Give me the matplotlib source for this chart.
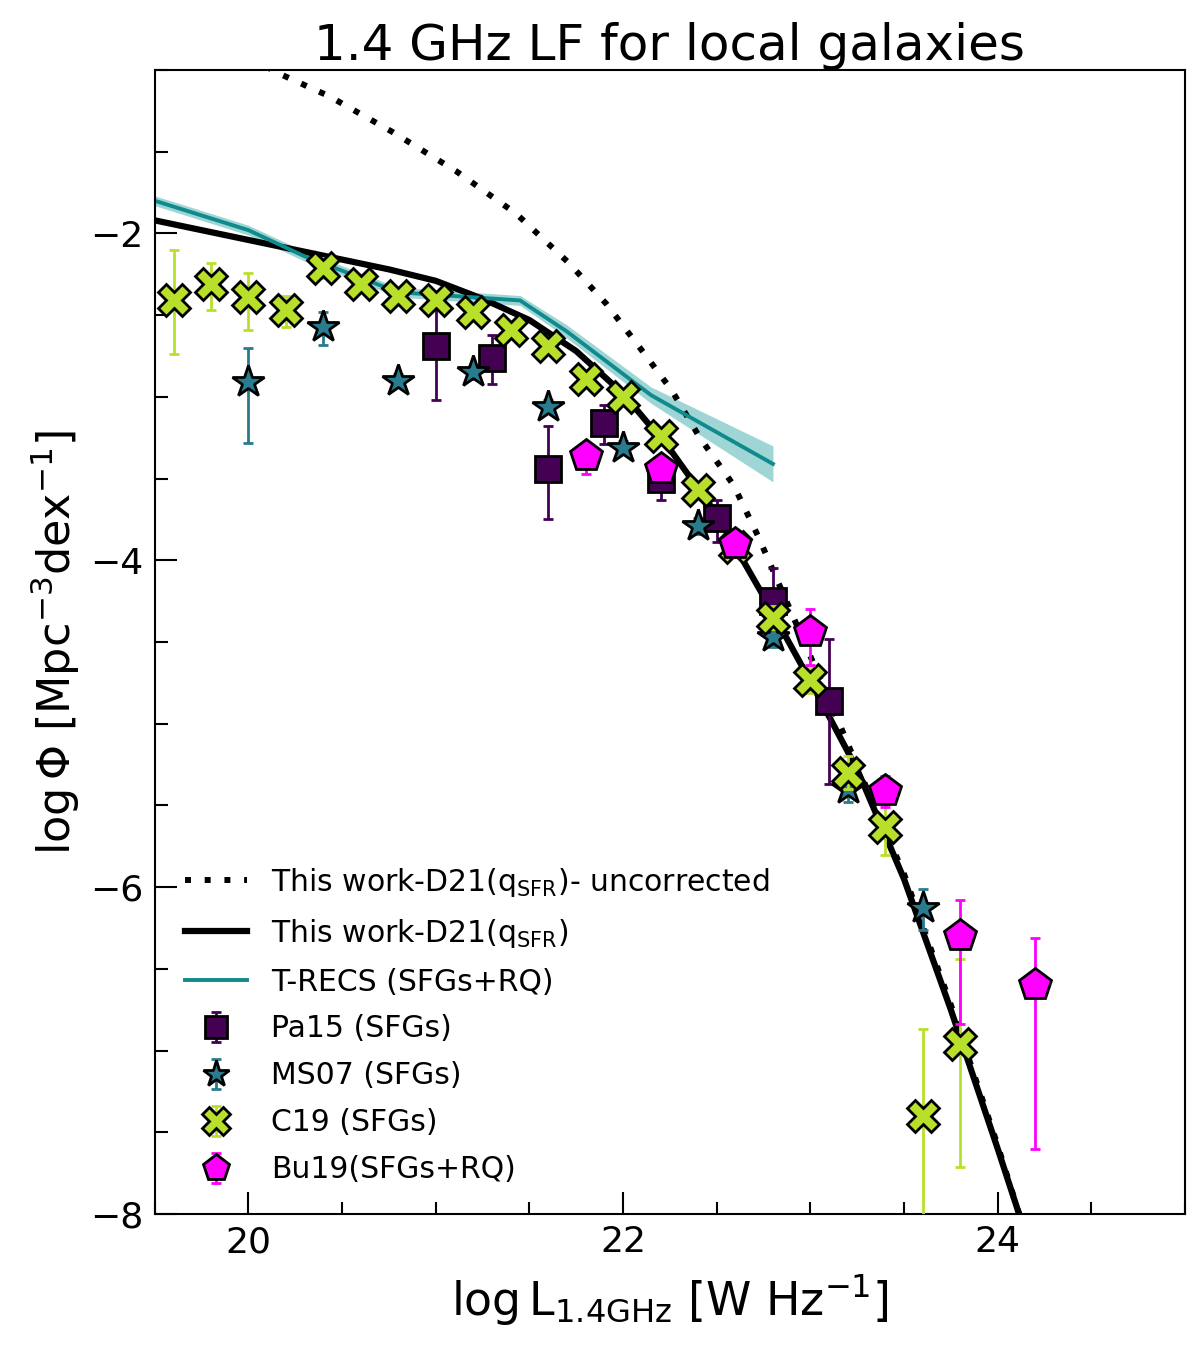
import matplotlib
matplotlib.use("Agg")
import matplotlib.pyplot as plt
import numpy as np
from matplotlib.ticker import MultipleLocator

# ---- model curves ----
d21_x = [19.5, 19.75, 20.0, 20.25, 20.5, 20.75, 21.0, 21.25, 21.5, 21.75, 22.0,
         22.25, 22.5, 22.75, 23.0, 23.25, 23.5, 23.75, 24.0, 24.12]
d21_y = [-1.92, -1.98, -2.04, -2.10, -2.16, -2.22, -2.29, -2.40, -2.53, -2.72, -2.98,
         -3.32, -3.72, -4.22, -4.74, -5.28, -5.95, -6.75, -7.60, -8.02]

unc_x = [20.0, 20.16, 20.43, 20.77, 21.11, 21.43, 21.71, 21.91, 22.09, 22.26, 22.41,
         22.59, 22.72, 22.91, 23.1, 23.25, 23.5, 23.75, 24.0, 24.12]
unc_y = [-0.92, -1.02, -1.16, -1.38, -1.62, -1.88, -2.18, -2.43, -2.70, -2.96, -3.25,
         -3.54, -3.85, -4.35, -4.85, -5.26, -5.92, -6.72, -7.58, -8.02]

trecs_x = [19.5, 20.0, 20.3, 20.8, 21.45, 21.7, 22.15, 22.8]
trecs_y = [-1.80, -1.98, -2.14, -2.36, -2.41, -2.60, -2.99, -3.41]
trecs_err = [0.03, 0.03, 0.03, 0.03, 0.03, 0.04, 0.05, 0.11]

# ---- data points ----
pa15_x = [21.0, 21.3, 21.6, 21.9, 22.2, 22.5, 22.8, 23.1]
pa15_y = [-2.69, -2.76, -3.44, -3.16, -3.50, -3.74, -4.25, -4.86]
pa15_elo = [0.33, 0.16, 0.31, 0.13, 0.13, 0.15, 0.20, 0.51]
pa15_ehi = [0.33, 0.14, 0.26, 0.11, 0.10, 0.11, 0.20, 0.38]

ms07_x = [20.0, 20.4, 20.8, 21.2, 21.6, 22.0, 22.4, 22.8, 23.2, 23.6]
ms07_y = [-2.91, -2.57, -2.90, -2.85, -3.06, -3.31, -3.79, -4.47, -5.40, -6.13]
ms07_elo = [0.37, 0.11, 0.04, 0.04, 0.04, 0.04, 0.05, 0.06, 0.08, 0.13]
ms07_ehi = [0.21, 0.09, 0.04, 0.04, 0.04, 0.04, 0.05, 0.06, 0.08, 0.12]

c19_x = [19.6, 19.8, 20.0, 20.2, 20.4, 20.6, 20.8, 21.0, 21.2, 21.4, 21.6,
         21.8, 22.0, 22.2, 22.4, 22.6, 22.8, 23.0, 23.2, 23.4, 23.6, 23.8]
c19_y = [-2.41, -2.31, -2.39, -2.47, -2.21, -2.31, -2.38, -2.41, -2.48, -2.59, -2.69,
         -2.89, -3.00, -3.24, -3.57, -3.92, -4.35, -4.73, -5.30, -5.63, -7.40, -6.96]
c19_elo = [0.33, 0.16, 0.20, 0.10, 0.06, 0.04, 0.04, 0.04, 0.04, 0.04, 0.04,
           0.04, 0.04, 0.05, 0.05, 0.06, 0.07, 0.08, 0.10, 0.17, 0.80, 0.75]
c19_ehi = [0.31, 0.13, 0.15, 0.09, 0.06, 0.04, 0.04, 0.04, 0.04, 0.04, 0.04,
           0.04, 0.04, 0.05, 0.05, 0.06, 0.07, 0.08, 0.10, 0.15, 0.53, 0.52]

bu19_x = [21.8, 22.2, 22.6, 23.0, 23.4, 23.8, 24.2]
bu19_y = [-3.36, -3.44, -3.90, -4.44, -5.41, -6.30, -6.60]
bu19_elo = [0.11, 0.08, 0.08, 0.20, 0.10, 0.54, 1.00]
bu19_ehi = [0.08, 0.06, 0.06, 0.14, 0.09, 0.22, 0.29]

fig = plt.figure(figsize=(12, 13.46), dpi=100)
ax = fig.add_axes([0.129, 0.098, 0.8585, 0.85])

ax.plot(unc_x, unc_y, color='black', lw=4.3, dashes=(1, 2.3),
        label=r'This work-D21($\rm q_{SFR}$)- uncorrected', zorder=2)
ax.plot(d21_x, d21_y, color='black', lw=4.5,
        label=r'This work-D21($\rm q_{SFR}$)', zorder=2)
tr_y = np.array(trecs_y)
tr_e = np.array(trecs_err)
ax.fill_between(trecs_x, tr_y - tr_e, tr_y + tr_e, color='#2ca3a3', alpha=0.45,
                lw=0, zorder=1)
ax.plot(trecs_x, trecs_y, color='#0f8b8d', lw=2.8, label='T-RECS (SFGs+RQ)', zorder=2)

ekw = dict(ls='none', elinewidth=2, capsize=3.5, capthick=2, mec='black', mew=2)
ax.errorbar(pa15_x, pa15_y, yerr=[pa15_elo, pa15_ehi], fmt='s', ms=19,
            color='#440154', ecolor='#440154', label='Pa15 (SFGs)', zorder=3, **ekw)
ax.errorbar(ms07_x, ms07_y, yerr=[ms07_elo, ms07_ehi], fmt='*', ms=24,
            color='#287c8e', ecolor='#287c8e', label='MS07 (SFGs)', zorder=3, **ekw)
ax.errorbar(c19_x, c19_y, yerr=[c19_elo, c19_ehi], fmt='X', ms=23,
            color='#b8e02a', ecolor='#b8e02a', label='C19 (SFGs)', zorder=4, **ekw)
ax.errorbar(bu19_x, bu19_y, yerr=[bu19_elo, bu19_ehi], fmt='p', ms=24,
            color='#ff00ff', ecolor='#ff00ff', label='Bu19(SFGs+RQ)', zorder=5, **ekw)

ax.set_xlim(19.5, 25.0)
ax.set_ylim(-8.0, -1.0)
ax.xaxis.set_major_locator(MultipleLocator(2))
ax.xaxis.set_minor_locator(MultipleLocator(0.5))
ax.yaxis.set_major_locator(MultipleLocator(2))
ax.yaxis.set_minor_locator(MultipleLocator(0.5))
ax.tick_params(which='both', direction='in', top=False, right=False,
               labelsize=26, width=1.5)
ax.tick_params(which='major', length=16, pad=8)
ax.tick_params(which='minor', length=9)
for s in ax.spines.values():
    s.set_linewidth(1.5)

ax.set_xlabel(r'log$\,$L$_{\rm 1.4GHz}$ [W Hz$^{-1}$]', fontsize=33, labelpad=10)
ax.set_ylabel(r'log$\,\Phi$ [Mpc$^{-3}$dex$^{-1}$]', fontsize=32, labelpad=6)
ax.set_title('1.4 GHz LF for local galaxies', fontsize=36, pad=6)

ax.legend(loc='lower left', frameon=False, fontsize=21.5, handlelength=2.1,
          labelspacing=0.6, markerscale=0.85, borderaxespad=0.6)

fig.savefig('out.png', dpi=100)
